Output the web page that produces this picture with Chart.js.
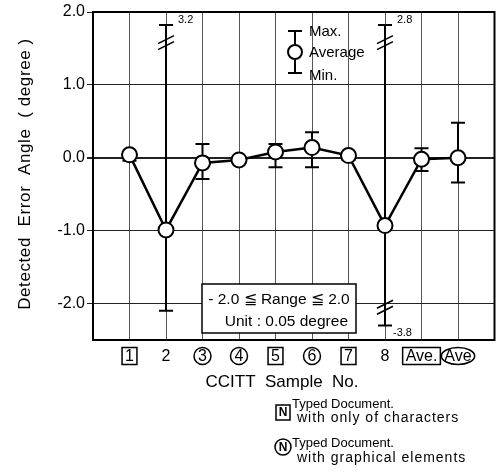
<!DOCTYPE html>
<html>
<head>
<meta charset="utf-8">
<script src="https://cdn.jsdelivr.net/npm/chart.js@4.4.1/dist/chart.umd.min.js"></script>
<style>
  html, body { margin: 0; padding: 0; background: #fff; }
  #wrap { width: 504px; height: 476px; }
</style>
</head>
<body>
<div id="wrap"><canvas id="c" width="504" height="476"></canvas></div>
<script>
// ---- data ----
const categories = ['1', '2', '3', '4', '5', '6', '7', '8', 'Ave.', 'Ave'];
const labelKinds = ['box', 'plain', 'circle', 'circle', 'box', 'circle', 'box', 'plain', 'box', 'ellipse'];
const averages = [0.04, -0.99, -0.07, -0.03, 0.08, 0.14, 0.03, -0.93, -0.02, 0.0];
const maxima   = [0.06, 3.2, 0.19, 0.01, 0.19, 0.35, 0.06, 2.8, 0.13, 0.48];
const minima   = [-0.04, -2.1, -0.29, -0.06, -0.13, -0.13, -0.03, -3.8, -0.18, -0.34];
const yTicks = [2, 1, 0, -1, -2];
const yMin = -2.5, yMax = 2.0;
// where out-of-range values are drawn on the broken axis
const brokenTopShown = 1.82, brokenTopMark = 1.58;
const brokenBottomShown = -2.3, brokenBottomMark = -2.05;

const FONT = '"Liberation Sans", Arial, Helvetica, sans-serif';

function drawBreak(ctx, x, y) {
  ctx.save();
  ctx.lineWidth = 1.6;
  ctx.strokeStyle = '#000';
  for (const dy of [-3, 3]) {
    ctx.beginPath();
    ctx.moveTo(x - 8, y + dy + 4);
    ctx.lineTo(x + 8, y + dy - 4);
    ctx.stroke();
  }
  ctx.restore();
}

const errorBars = {
  id: 'errorBars',
  beforeDatasetsDraw(chart) {
    const ctx = chart.ctx, xs = chart.scales.x, ys = chart.scales.y;
    ctx.save();
    ctx.strokeStyle = '#000';
    ctx.fillStyle = '#000';
    categories.forEach((c, i) => {
      const x = xs.getPixelForValue(i + 1);
      const hiBroken = maxima[i] > yMax, loBroken = minima[i] < yMin;
      const hiV = hiBroken ? brokenTopShown : maxima[i];
      const loV = loBroken ? brokenBottomShown : minima[i];
      const yHi = ys.getPixelForValue(hiV), yLo = ys.getPixelForValue(loV);
      ctx.lineWidth = 2;
      ctx.beginPath();
      ctx.moveTo(x, yHi); ctx.lineTo(x, yLo);
      ctx.stroke();
      ctx.beginPath();
      ctx.moveTo(x - 7, yHi); ctx.lineTo(x + 7, yHi);
      ctx.moveTo(x - 7, yLo); ctx.lineTo(x + 7, yLo);
      ctx.stroke();
      ctx.font = '11px ' + FONT;
      ctx.textBaseline = 'middle';
      ctx.textAlign = 'left';
      if (hiBroken) {
        drawBreak(ctx, x, ys.getPixelForValue(brokenTopMark));
        ctx.fillText(maxima[i].toFixed(1), x + 12, yHi - 5);
      }
      if (loBroken) {
        drawBreak(ctx, x, ys.getPixelForValue(brokenBottomMark));
        ctx.fillText(minima[i].toFixed(1), x + 8, yLo + 8);
      }
    });
    ctx.restore();
  }
};

const decorations = {
  id: 'decorations',
  afterDraw(chart) {
    const ctx = chart.ctx, xs = chart.scales.x, a = chart.chartArea;
    ctx.save();
    // plot frame
    ctx.strokeStyle = '#000';
    ctx.lineWidth = 2;
    ctx.strokeRect(a.left, a.top, a.right - a.left, a.bottom - a.top);

    // category labels
    ctx.fillStyle = '#000';
    ctx.textAlign = 'center';
    ctx.textBaseline = 'middle';
    ctx.font = '16px ' + FONT;
    const ly = a.bottom + 16;
    categories.forEach((c, i) => {
      const x = xs.getPixelForValue(i + 1);
      const w = ctx.measureText(c).width;
      ctx.fillText(c, x, ly + 1);
      ctx.lineWidth = 1.5;
      const k = labelKinds[i];
      ctx.beginPath();
      if (k === 'box') {
        const bw = Math.max(w + 6, 14);
        ctx.rect(x - bw / 2, ly - 8.5, bw, 17);
      } else if (k === 'circle') {
        ctx.arc(x, ly, 8.5, 0, Math.PI * 2);
      } else if (k === 'ellipse') {
        ctx.ellipse(x, ly, w / 2 + 3, 8.5, 0, 0, Math.PI * 2);
      }
      if (k !== 'plain') ctx.stroke();
    });

    // axis titles
    ctx.font = '17px ' + FONT;
    ctx.fillText('CCITT  Sample  No.', 282, 382);
    ctx.save();
    ctx.translate(25, 174);
    ctx.rotate(-Math.PI / 2);
    ctx.font = '17px ' + FONT;
    ctx.letterSpacing = '0.6px';
    ctx.fillText('Detected  Error  Angle  ( degree )', 0, 0);
    ctx.restore();

    // inner legend (max / average / min)
    const lx = 295;
    ctx.lineWidth = 2;
    ctx.beginPath();
    ctx.moveTo(lx, 31); ctx.lineTo(lx, 73);
    ctx.moveTo(lx - 7, 31); ctx.lineTo(lx + 7, 31);
    ctx.moveTo(lx - 7, 73); ctx.lineTo(lx + 7, 73);
    ctx.stroke();
    ctx.beginPath();
    ctx.arc(lx, 52, 7, 0, Math.PI * 2);
    ctx.fillStyle = '#fff'; ctx.fill();
    ctx.stroke();
    ctx.fillStyle = '#000';
    ctx.textAlign = 'left';
    ctx.font = '15px ' + FONT;
    ctx.fillText('Max.', 309, 32);
    ctx.fillText('Average', 309, 53);
    ctx.fillText('Min.', 309, 76);

    // range box
    ctx.fillStyle = '#fff';
    ctx.fillRect(202, 284, 154, 49);
    ctx.lineWidth = 1.5;
    ctx.strokeRect(202, 284, 154, 49);
    ctx.fillStyle = '#000';
    ctx.textAlign = 'center';
    ctx.font = '15.5px ' + FONT;
    ctx.fillText('- 2.0 \u2266 Range \u2266 2.0', 279, 300);
    ctx.textAlign = 'right';
    ctx.fillText('Unit : 0.05 degree', 348, 322);

    // bottom legend
    ctx.lineWidth = 1.5;
    ctx.strokeRect(276, 405, 14, 15);
    ctx.textAlign = 'center';
    ctx.font = 'bold 12px ' + FONT;
    ctx.fillText('N', 283, 413);
    ctx.beginPath();
    ctx.arc(283, 447, 8, 0, Math.PI * 2);
    ctx.stroke();
    ctx.fillText('N', 283, 448);
    ctx.textAlign = 'left';
    ctx.font = '13px ' + FONT;
    ctx.fillText('Typed Document.', 292, 404);
    ctx.fillText('Typed Document.', 292, 443);
    ctx.font = '14px ' + FONT;
    ctx.letterSpacing = '1px';
    ctx.fillText('with only of characters', 297, 418);
    ctx.fillText('with graphical elements', 297, 458);
    ctx.letterSpacing = '0px';
    ctx.restore();
  }
};

const ctx = document.getElementById('c').getContext('2d');
new Chart(ctx, {
  type: 'line',
  data: {
    datasets: [{
      data: averages.map((v, i) => ({ x: i + 1, y: v })),
      borderColor: '#000',
      borderWidth: 2.5,
      pointRadius: 7.5,
      pointBorderWidth: 2,
      pointBackgroundColor: '#fff',
      pointBorderColor: '#000',
      tension: 0,
      fill: false
    }]
  },
  options: {
    responsive: false,
    animation: false,
    devicePixelRatio: 1,
    layout: { padding: { top: 12, right: 2, left: 0, bottom: 0 } },
    plugins: { legend: { display: false }, tooltip: { enabled: false } },
    scales: {
      x: {
        type: 'linear',
        min: 0, max: 11,
        afterBuildTicks: s => { s.ticks = categories.map((c, i) => ({ value: i + 1 })); },
        afterFit: s => { s.height = 136; },
        ticks: { display: false },
        grid: { color: '#555', lineWidth: 1, drawTicks: false },
        border: { display: false }
      },
      y: {
        min: yMin, max: yMax,
        afterBuildTicks: s => { s.ticks = yTicks.map(v => ({ value: v })); },
        afterFit: s => { s.width = 93; },
        ticks: {
          color: '#000',
          padding: 2,
          font: { family: FONT, size: 16 },
          callback: v => v.toFixed(1)
        },
        grid: {
          color: '#222',
          lineWidth: c => (c.tick && c.tick.value === 0 ? 2 : 1),
          tickLength: 6
        },
        border: { display: false }
      }
    }
  },
  plugins: [errorBars, decorations]
});
</script>
</body>
</html>
